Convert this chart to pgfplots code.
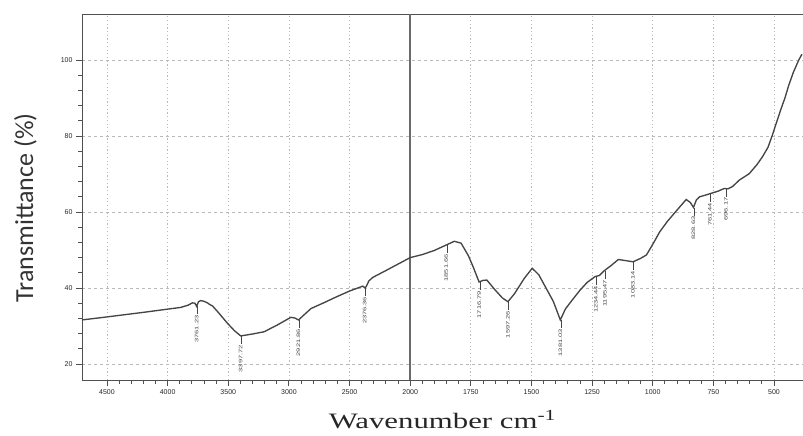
\documentclass[border=0pt]{standalone}
\usepackage{pgfplots}
\pgfplotsset{compat=1.18}
\usepackage{pgfplotstable}
\usepackage{fontspec}
\usepackage{graphicx}
\setmainfont{Liberation Serif}
\newfontfamily\calib{Carlito}
\newfontfamily\ticksf{Liberation Sans}
\definecolor{curve}{HTML}{454545}
\definecolor{axcol}{HTML}{505050}

\pgfplotstableread{
w T
4707 31.6
4500 32.4
4200 33.6
3892 34.9
3830 35.5
3796 36.1
3775 36.0
3761 35.2
3745 36.4
3727 36.7
3700 36.5
3672 36.1
3650 35.6
3630 35.3
3580 33.5
3506 30.7
3450 28.8
3397 27.4
3300 27.9
3204 28.5
3100 30.2
2983 32.3
2950 32.1
2921 31.6
2880 32.8
2818 34.6
2700 36.3
2600 37.8
2500 39.2
2391 40.5
2376 40.1
2364 40.3
2340 41.9
2308 42.8
2200 44.6
2100 46.3
2000 48.0
1950 48.8
1900 49.9
1852 51.3
1818 52.3
1790 51.8
1760 48.5
1740 45.5
1716 41.6
1700 42.0
1684 42.1
1650 39.5
1620 37.4
1597 36.4
1570 38.5
1530 42.5
1497 45.2
1470 43.5
1440 40.0
1410 36.5
1381 31.6
1360 34.5
1330 37.0
1299 39.5
1270 41.5
1238 43.0
1220 43.3
1201 44.5
1170 46.0
1142 47.5
1110 47.2
1081 46.9
1050 47.8
1026 48.7
1000 51.5
971 54.8
940 57.5
900 60.5
862 63.3
845 62.5
832 61.2
820 63.2
807 64.0
785 64.4
760 64.9
730 65.5
705 66.2
690 66.1
671 66.7
643 68.4
602 70.1
570 72.5
548 74.5
525 77.0
507 80.2
490 83.5
473 86.8
455 90.0
439 93.4
420 96.8
398 100.0
385 101.5
}\spectrum

\pgfplotstableread{
w T label
3761 35.2 3761.23
3397 27.4 3397.72
2921 31.6 2921.86
2376 40.1 2376.36
1852 51.3 1851.66
1716 41.6 1716.79
1597 36.4 1597.26
1381 31.6 1381.03
1234 43.0 1234.44
1197 44.5 1195.47
1082 46.9 1083.14
832 61.2 828.63
764 64.8 761.44
698 66.2 696.17
}\peaks

\begin{document}
\begin{tikzpicture}
\begin{axis}[
  scale only axis, width=721pt, height=366pt,
  xmin=-2706, xmax=3239, ymin=15.8, ymax=112.1,
  axis x line*=box, axis y line*=left,
  axis line style={axcol, line width=0.9pt},
  xtick={-2500,-2000,...,3000},
  xticklabels={4500,4000,3500,3000,2500,2000,1750,1500,1250,1000,750,500},
  ytick={20,40,60,80,100},
  minor x tick num=4, minor y tick num=4,
  xtick pos=left, ytick pos=left,
  tick align=outside,
  major tick length=6pt, minor tick length=3.5pt,
  tick style={axcol, line width=0.9pt},
  ticklabel style={font=\ticksf\fontsize{7}{8}\selectfont, text=black!85},
  /pgf/number format/assume math mode=true,
  xmajorgrids, ymajorgrids,
  x grid style={gray!55, line width=0.7pt, dash pattern=on 1.2pt off 2.5pt},
  y grid style={gray!55, line width=0.7pt, dash pattern=on 3pt off 3pt},
  ylabel={Transmittance (\%)},
  ylabel style={font=\calib\fontsize{26}{28}\selectfont, at={(axis description cs:-0.0624,0.47)}, anchor=south, inner sep=0pt, text=black!80},
  xlabel={Wavenumber cm\textsuperscript{-1}},
  xlabel style={font=\fontsize{22}{24}\selectfont, xscale=1.4, at={(axis description cs:0.5,0)}, anchor=base, yshift=-48pt, inner sep=0pt, text=black!85},
  clip=true,
]
\addplot[axcol!85, line width=2.4pt, forget plot] coordinates {(0,15.8) (0,112.1)};
\addplot[curve, line width=1.35pt, mark=none]
  table[x expr={\thisrow{w}>=2000 ? 2000-\thisrow{w} : 2*(2000-\thisrow{w})}, y=T]{\spectrum};
\addplot[draw=none, mark=none, point meta=explicit symbolic,
  nodes near coords={\scalebox{1.5}[1]{\pgfplotspointmeta}\hspace{1pt}\rule[0.2ex]{8pt}{0.7pt}\hspace{1.5pt}},
  nodes near coords style={rotate=90, anchor=east, inner sep=0pt, font=\ticksf\fontsize{5}{5}\selectfont, text=curve}]
  table[x expr={\thisrow{w}>=2000 ? 2000-\thisrow{w} : 2*(2000-\thisrow{w})}, y=T, meta=label]{\peaks};
\end{axis}
\pgfresetboundingbox
\path[use as bounding box] ([shift={(-82pt,-55pt)}]current axis.south west) rectangle ([shift={(0pt,14pt)}]current axis.north east);
\end{tikzpicture}
\end{document}
